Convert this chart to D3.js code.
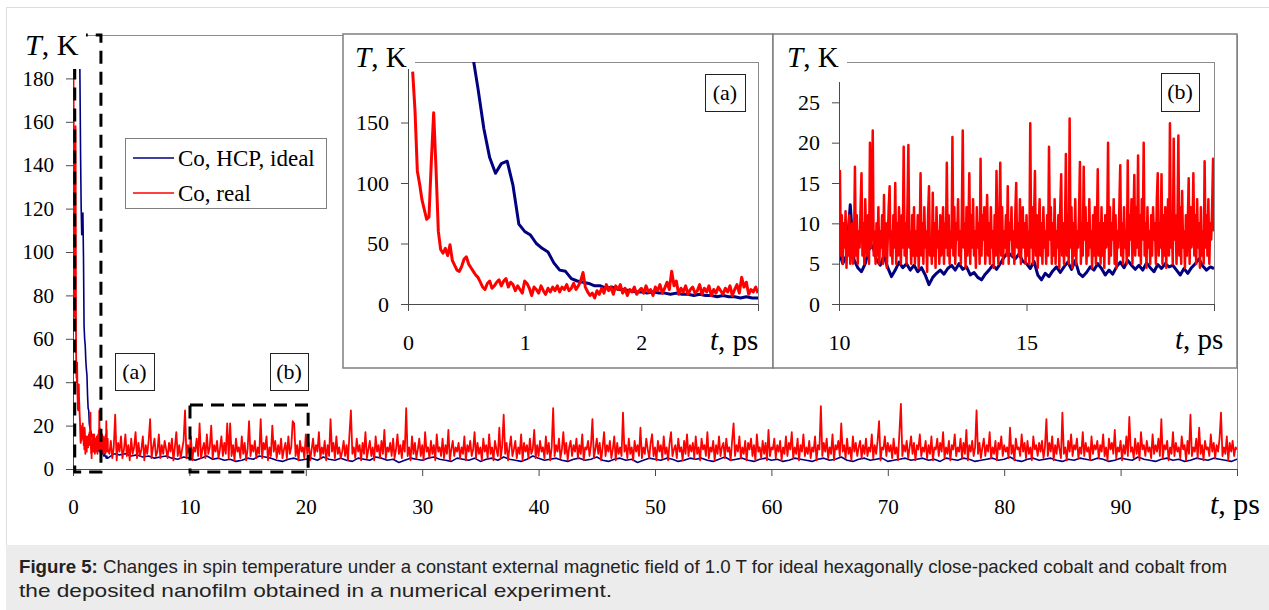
<!DOCTYPE html>
<html>
<head>
<meta charset="utf-8">
<style>
  body { margin: 0; background: #fff; }
  svg { display: block; }
</style>
</head>
<body>
<div id="figure"></div>
<script src="https://cdn.jsdelivr.net/npm/d3@7/dist/d3.min.js"></script>
<script>
// ---- data (K versus ps) ----
// main plot after the first 3 ps
const mainRedStart = 3.125, mainRedStep = 0.125;
const mainRed = [
  7, 13, 5, 10, 25, 4, 12, 8, 15, 5, 9, 16, 6, 11, 4, 14, 7, 10, 17, 5, 12, 6, 9, 15, 4, 11, 7, 13, 23, 5, 10, 14, 6, 8, 16, 5, 11, 7, 13, 9,
  5, 12, 8, 14, 4, 10, 17, 6, 11, 5, 9, 13, 27, 5, 11, 7, 15, 4, 10, 8, 14, 6, 21, 5, 9, 12, 5, 16, 7, 10, 20, 5, 11, 8, 13, 5, 9, 15, 6, 12,
  7, 21, 5, 21, 6, 11, 4, 14, 8, 10, 5, 15, 7, 12, 4, 9, 22, 6, 11, 8, 13, 5, 10, 7, 23, 5, 12, 9, 15, 4, 10, 6, 20, 8, 13, 5, 11, 7, 14, 5,
  9, 12, 5, 15, 7, 10, 22, 21, 6, 11, 4, 13, 8, 10, 5, 16, 7, 12, 4, 9, 14, 6, 11, 8, 17, 5, 10, 7, 13, 4, 11, 6, 23, 8, 12, 5, 15, 7, 10, 5,
  8, 13, 6, 11, 4, 16, 27, 7, 10, 5, 14, 8, 11, 4, 12, 7, 17, 5, 9, 13, 6, 10, 4, 15, 8, 11, 5, 13, 7, 18, 5, 10, 8, 12, 6, 14, 5, 9, 16, 7,
  11, 5, 13, 8, 28, 6, 10, 4, 15, 7, 12, 5, 9, 14, 6, 11, 4, 17, 8, 10, 5, 13, 7, 11, 4, 16, 8, 10, 6, 14, 5, 11, 7, 18, 4, 9, 13, 6, 10, 8,
  12, 5, 10, 7, 15, 4, 11, 8, 13, 6, 9, 17, 5, 12, 7, 10, 4, 14, 8, 11, 5, 16, 7, 10, 4, 13, 9, 6, 19, 5, 11, 25, 7, 12, 4, 10, 15, 6, 9, 13,
  5, 10, 7, 16, 4, 12, 8, 11, 5, 14, 7, 9, 18, 5, 11, 6, 13, 8, 10, 5, 15, 7, 12, 4, 10, 28, 6, 11, 8, 14, 5, 9, 17, 7, 12, 4, 10, 13, 6, 11,
  8, 14, 5, 11, 7, 16, 4, 10, 9, 13, 6, 11, 23, 5, 9, 14, 7, 12, 4, 10, 17, 6, 11, 8, 13, 5, 9, 15, 4, 12, 7, 10, 6, 26, 8, 11, 5, 14, 7, 10,
  4, 13, 8, 11, 6, 19, 5, 10, 7, 14, 9, 5, 12, 16, 6, 10, 4, 13, 8, 11, 5, 15, 7, 10, 4, 12, 17, 6, 9, 11, 5, 14, 8, 10, 4, 13, 7, 16, 6, 11,
  8, 12, 5, 15, 7, 10, 4, 14, 9, 11, 6, 17, 5, 10, 8, 13, 4, 11, 7, 15, 6, 10, 12, 5, 14, 8, 10, 4, 13, 21, 6, 11, 8, 15, 5, 10, 7, 13, 4, 12,
  9, 14, 6, 11, 4, 16, 8, 10, 5, 13, 7, 12, 4, 18, 6, 10, 9, 14, 5, 11, 8, 13, 4, 10, 7, 15, 6, 12, 9, 17, 5, 10, 7, 14, 4, 11, 8, 16, 6, 10,
  7, 13, 5, 10, 8, 15, 4, 11, 9, 29, 6, 12, 8, 14, 5, 10, 7, 16, 4, 11, 9, 13, 6, 21, 8, 11, 5, 14, 7, 10, 4, 15, 8, 12, 6, 10, 13, 5, 11, 7,
  14, 6, 10, 8, 16, 5, 11, 7, 13, 22, 4, 10, 9, 15, 6, 12, 8, 11, 5, 14, 7, 10, 4, 17, 30, 6, 11, 8, 13, 5, 10, 15, 7, 12, 4, 11, 9, 16, 6, 10,
  8, 13, 5, 11, 7, 15, 4, 10, 9, 14, 6, 12, 8, 17, 5, 10, 7, 13, 4, 11, 9, 16, 6, 10, 8, 14, 5, 12, 7, 18, 4, 11, 8, 13, 6, 10, 27, 7, 12, 5,
  10, 14, 6, 11, 8, 17, 5, 10, 7, 13, 4, 12, 9, 15, 6, 11, 8, 10, 5, 19, 7, 11, 4, 14, 9, 10, 6, 16, 8, 12, 5, 13, 7, 10, 4, 15, 9, 11, 6, 12,
  8, 13, 5, 10, 23, 6, 12, 8, 15, 4, 11, 7, 14, 9, 5, 26, 7, 10, 4, 13, 8, 16, 6, 11, 9, 14, 5, 10, 7, 17, 6, 12, 8, 10, 4, 15, 7, 11, 9, 13,
  5, 11, 8, 16, 6, 10, 4, 14, 9, 12, 7, 18, 5, 10, 8, 13, 4, 11, 7, 15, 6, 24, 8, 10, 5, 14, 7, 12, 4, 17, 9, 11, 6, 13, 8, 10, 5, 16, 7, 11,
  8, 14, 6, 23, 5, 11, 9, 13, 4, 10, 7, 17, 6, 12, 8, 10, 5, 15, 9, 11, 4, 13, 7, 25, 6, 10, 8, 14, 5, 19, 7, 11, 4, 13, 9, 10, 6, 16, 8, 12,
  5, 11, 8, 14, 26, 6, 10, 7, 15, 4, 12, 8, 13, 6, 10, 9
];
const mainBlueStart = 3.5, mainBlueStep = 0.5;
const mainBlue = [
  7, 6.5, 7, 6, 6.5, 5.5, 6, 5, 5.5, 6, 5, 4.5, 5.5, 5, 4, 5, 6, 4.5, 5, 4,
  4.5, 3.5, 4, 5, 4.5, 6, 5.5, 5, 4, 3.5, 4.5, 5, 4, 4.5, 5, 4, 5.5, 4.5, 4, 5,
  4, 3.5, 5, 4.5, 4, 5.5, 5, 4, 4.5, 3, 4, 5, 4.5, 4, 5, 5.5, 4.5, 4, 3.5, 5,
  4.5, 4, 5, 3.5, 4.5, 5, 4, 5.5, 4.5, 4, 3.5, 4.5, 6, 5, 4, 4.5, 5, 4, 3.5, 4.5,
  5, 4, 4.5, 5.5, 4, 3.5, 4.5, 5, 4, 4.5, 3, 4, 5, 4.5, 4, 5, 4.5, 3.5, 4, 5,
  4.5, 5, 4, 3.5, 4.5, 5.5, 4, 4.5, 5, 4, 3.5, 4.5, 5, 4, 4.5, 3.5, 4, 5, 4.5, 4,
  3.5, 4.5, 5, 4, 4.5, 5.5, 4, 3.5, 4.5, 5, 4, 4.5, 5, 3.5, 4, 4.5, 5, 4, 4.5, 5,
  4, 4.5, 3.5, 5, 4.5, 4, 5, 4.5, 3.5, 4, 4.5, 5, 4, 4.5, 5.5, 4, 3.5, 4.5, 5, 4,
  4.5, 5, 4, 3.5, 4.5, 4, 5, 4.5, 4, 5, 4.5, 3.5, 4, 5, 4.5, 4, 5.5, 4.5, 4, 3.5,
  4.5, 5, 4, 4.5, 3.5, 4, 5, 4.5, 4, 5, 4.5, 4, 3.5, 4.5, 4
];
// inset (a): 0 - 3 ps
const aRedStart = 0.04, aRedStep = 0.02;
const aRed = [
  192, 160, 110, 99, 86, 78, 70, 72, 118, 158,
  112, 60, 45, 42, 46, 40, 49, 36, 32, 28,
  27, 31, 37, 39, 33, 30, 27, 24, 22, 18,
  14, 12, 17, 19, 13, 15, 18, 20, 15, 19,
  21, 14, 18, 16, 11, 15, 12, 9, 19, 17,
  13, 7, 14, 12, 9, 15, 11, 8, 13, 10,
  14, 11, 15, 10, 14, 12, 16, 11, 13, 17,
  12, 15, 19, 26, 14, 10, 7, 9, 5, 11,
  8, 13, 9, 16, 11, 14, 8, 15, 12, 16,
  9, 13, 7, 12, 10, 14, 8, 11, 13, 9,
  15, 10, 12, 7, 14, 11, 16, 9, 13, 18,
  12, 27, 15, 19, 8, 13, 10, 15, 8, 12,
  14, 9, 11, 16, 8, 13, 10, 15, 7, 12,
  9, 14, 11, 8, 13, 10, 15, 7, 12, 16,
  9, 22, 14, 18, 8, 12, 10, 14, 9
];
const aBlueStart = 0.5, aBlueStep = 0.05;
const aBlue = [
  230, 208, 178, 145, 121, 108, 116, 118, 98, 66,
  60, 57, 50, 46, 43, 34, 28, 27, 21, 19,
  18, 17, 15, 15, 13, 14, 12, 12, 11, 10,
  10, 9, 10, 9, 9, 8, 9, 8, 8, 7,
  8, 7, 7, 6, 7, 6, 6, 5, 6, 5, 5
];
// inset (b): 10 - 20 ps
const bRedStart = 10, bRedStep = 0.025;
const bRed = [
  9, 16.5, 6, 11, 5, 10, 7, 11.5, 4.5, 9, 6, 11, 5, 8, 10, 5, 7, 17, 6, 11, 5, 9, 7, 12, 16.2, 6, 10, 5, 13, 8, 6, 11, 5, 20, 7, 12, 21.5, 6, 9, 5,
  10, 6, 12, 5, 9, 7, 11, 5, 13.5, 6, 10, 4.5, 8, 12, 14.6, 6, 9, 5, 11, 7, 15, 5, 10, 6, 12, 8, 5, 11, 7, 19.5, 6, 10, 5, 12, 19.7, 7, 9, 5, 11, 6,
  12, 5, 9, 6, 11, 4.5, 8, 16.2, 6, 10, 5, 12, 7, 9, 4, 11, 14.6, 6, 8, 5, 13.8, 6, 10, 4.5, 12, 7, 9, 5, 11, 6, 8, 12, 5, 10, 7, 17.5, 6, 11, 5, 9,
  7, 20.7, 6, 12, 5, 10, 8, 13, 6, 9, 5, 11, 21.5, 7, 10, 4.5, 12, 6, 9, 16.2, 5, 11, 7, 13, 6, 9, 4.5, 12, 7, 10, 5, 18, 6, 11, 8, 12, 5, 9, 13.5, 6,
  10, 5, 12, 7, 9, 4.5, 11, 6, 16.5, 8, 5, 10, 17.5, 6, 12, 5, 9, 7, 11, 6, 14.6, 5, 10, 8, 12, 6, 9, 5, 11, 15, 7, 10, 6, 13, 5, 9, 12, 7, 10, 5,
  11, 6, 9, 5, 22.4, 7, 12, 5, 10, 16.5, 6, 11, 4.5, 9, 13, 6, 10, 5, 12, 7, 9, 5, 11, 6, 19.5, 8, 12, 5, 10, 6, 13, 5, 9, 7, 11, 4.5, 12, 16.1, 6, 10,
  5, 9, 18.6, 6, 11, 5, 23, 7, 12, 4.5, 10, 6, 13, 5, 9, 7, 11, 17.6, 5, 10, 6, 17, 8, 12, 5, 10, 6, 13, 7, 9, 4.5, 11, 6, 12, 5, 9, 16.7, 6, 10, 5,
  12, 6, 10, 4.5, 11, 7, 9, 20, 5, 12, 6, 10, 8, 13, 5, 11, 4.5, 9, 7, 12, 17.2, 6, 10, 5, 12, 7, 9, 5, 17.8, 6, 11, 8, 13, 5, 10, 16, 6, 12, 7, 18.4,
  6, 11, 5, 13, 8, 20, 6, 10, 4.5, 12, 7, 9, 5, 11, 6, 12, 8, 10, 5, 13, 16.2, 6, 10, 7, 16.1, 5, 11, 6, 12, 4.5, 9, 13, 6, 22.4, 7, 10, 5, 20.5, 8, 11,
  5, 10, 20.9, 6, 12, 5, 14, 7, 9, 4.5, 11, 6, 10, 15.6, 5, 12, 7, 9, 16.2, 6, 11, 5, 13, 7, 10, 4.5, 12, 6, 9, 5, 17.7, 7, 11, 6, 13, 5, 10, 8, 12, 18,
  9
];
const bBlueStart = 10, bBlueStep = 0.1;
const bBlue = [
  6.5, 5, 6, 12.3, 5.5, 4.5, 4, 5, 6.8, 7.2,
  5.5, 4.8, 6, 4.5, 3.4, 4.2, 5.2, 4.5, 5, 4.2,
  4.8, 4, 4.5, 3.6, 2.4, 3.3, 3.8, 4.2, 3.7, 4.4,
  4.8, 4.2, 5, 4.3, 4.6, 3.6, 3.9, 3.3, 3, 3.7,
  4.2, 4.8, 4.3, 5, 5.8, 6.4, 6, 5.6, 6.2, 5.3,
  5, 4.4, 5.3, 3.6, 3, 3.8, 3.4, 4.1, 4.6, 3.9,
  4.6, 5.2, 4.3, 5.4, 3.8, 3.4, 3.9, 4.6, 4.2, 5,
  4.4, 3.6, 4.2, 3.7, 4.6, 5.2, 4.5, 5.4, 4.8, 4.3,
  4.8, 4.2, 5.1, 4.5, 4, 4.9, 4.4, 5, 4.6, 4.8,
  4.2, 3.6, 4.4, 3.8, 4.5, 5, 5.6, 4.7, 4.2, 4.6,
  4.4
];

const mainXTicks = [0, 10, 20, 30, 40, 50, 60, 70, 80, 90, 100];
const mainYTicks = [0, 20, 40, 60, 80, 100, 120, 140, 160, 180];
const aXTicks = [0, 1, 2, 3];
const aYTicks = [0, 50, 100, 150];
const bXTicks = [10, 15, 20];
const bYTicks = [0, 5, 10, 15, 20, 25];

const seriesNames = ['Co, HCP, ideal', 'Co, real'];
const seriesColors = ['#000080', '#ff0000'];
// dashed zoom regions on the main plot: [t0, t1, K0, K1]
const zoomRegions = [[0.15, 2.4, -1.4, 200], [10.05, 20.2, -1.4, 29.5]];
const zoomNames = ['(a)', '(b)'];

const captionBold = 'Figure 5:';
const captionLines = [
  ' Changes in spin temperature under a constant external magnetic field of 1.0 T for ideal hexagonally close-packed cobalt and cobalt from',
  'the deposited nanofilm obtained in a numerical experiment.'
];

const serif = "'Liberation Serif', 'Times New Roman', serif";
const sans = "'Liberation Sans', Arial, sans-serif";

const toPoints = (values, start, step) => values.map((v, i) => [start + i * step, v]);

const svg = d3.select('#figure').append('svg')
    .attr('width', 1269)
    .attr('height', 610);

displayFrame(svg);

const main = drawPanel(svg, {
  id: 'main', left: 73, right: 1237, top: 35, bottom: 469,
  xDomain: [0, 100], yDomain: [0, 200], xTicks: mainXTicks, yTicks: mainYTicks,
  tickFont: 21, titleFont: 30,
  series: [
    { points: toPoints(aBlue, aBlueStart, aBlueStep).concat(toPoints(mainBlue, mainBlueStart, mainBlueStep)),
      color: seriesColors[0], width: 1.6 },
    { points: toPoints(aRed, aRedStart, aRedStep).concat(toPoints(mainRed, mainRedStart, mainRedStep)),
      color: seriesColors[1], width: 1.8 }
  ],
  labelBox: [14, 16, 72, 53], yTitle: [25, 55], xTitle: [1210, 514]
});
displayZoomRegions(main);
displayLegend(svg);

drawInsetBox(svg, 343, 34, 430, 334);
const insetA = drawPanel(svg, {
  id: 'a', left: 408, right: 758, top: 62, bottom: 304,
  xDomain: [0, 3], yDomain: [0, 200], xTicks: aXTicks, yTicks: aYTicks,
  tickFont: 22, titleFont: 29,
  series: [
    { points: toPoints(aBlue, aBlueStart, aBlueStep), color: seriesColors[0], width: 3 },
    { points: toPoints(aRed, aRedStart, aRedStep), color: seriesColors[1], width: 3 }
  ],
  labelBox: [349, 38, 66, 31], yTitle: [355, 67], xTitle: [710, 350]
});
displayTitles(insetA.g, insetA.panel);
drawTag(svg, 705, 74, 40, 37, zoomNames[0]);

drawInsetBox(svg, 773, 34, 464, 334);
const insetB = drawPanel(svg, {
  id: 'b', left: 839, right: 1214, top: 62, bottom: 304,
  xDomain: [10, 20], yDomain: [0, 30], xTicks: bXTicks, yTicks: bYTicks,
  tickFont: 22, titleFont: 29,
  series: [
    { points: toPoints(bBlue, bBlueStart, bBlueStep), color: seriesColors[0], width: 3 },
    { points: toPoints(bRed, bRedStart, bRedStep), color: seriesColors[1], width: 2.5 }
  ],
  labelBox: [780, 38, 67, 44], yTitle: [787, 67], xTitle: [1175, 349]
});
displayTitles(insetB.g, insetB.panel);
drawTag(svg, 1161, 73, 38, 38, zoomNames[1]);

function displayFrame(svg) {
  svg.append('rect')
      .attr('x', 6.5)
      .attr('y', 7.5)
      .attr('width', 1280)
      .attr('height', 560)
      .attr('fill', '#fff')
      .attr('stroke', '#dcdcdc');

  svg.append('rect')
      .attr('x', 6)
      .attr('y', 545)
      .attr('width', 1263)
      .attr('height', 65)
      .attr('fill', '#ececec');

  const caption = svg.append('g')
      .style('font-family', sans)
      .style('font-size', '19px')
      .attr('fill', '#222');
  const first = caption.append('text')
      .attr('x', 19)
      .attr('y', 573)
      .attr('textLength', 1208)
      .attr('lengthAdjust', 'spacingAndGlyphs');
  first.append('tspan').attr('font-weight', 'bold').text(captionBold);
  first.append('tspan').text(captionLines[0]);
  caption.append('text')
      .attr('x', 19)
      .attr('y', 597)
      .attr('textLength', 593)
      .attr('lengthAdjust', 'spacingAndGlyphs')
      .text(captionLines[1]);
}

function drawInsetBox(svg, x, y, w, h) {
  svg.append('rect')
      .attr('x', x)
      .attr('y', y)
      .attr('width', w)
      .attr('height', h)
      .attr('fill', '#fff')
      .attr('stroke', '#7f7f7f')
      .attr('stroke-width', 1.5);
}

function drawPanel(svg, panel) {
  const x = d3.scaleLinear().domain(panel.xDomain).range([panel.left, panel.right]);
  const y = d3.scaleLinear().domain(panel.yDomain).range([panel.bottom, panel.top]);
  const g = svg.append('g').attr('id', 'panel-' + panel.id);
  const clipId = 'clip-' + panel.id;

  g.append('clipPath')
      .attr('id', clipId)
    .append('rect')
      .attr('x', panel.left)
      .attr('y', panel.top)
      .attr('width', panel.right - panel.left)
      .attr('height', panel.bottom - panel.top);

  // plot area border
  g.append('rect')
      .attr('x', panel.left + 0.5)
      .attr('y', panel.top + 0.5)
      .attr('width', panel.right - panel.left)
      .attr('height', panel.bottom - panel.top)
      .attr('fill', 'none')
      .attr('stroke', '#8c8c8c');

  const line = d3.line()
      .x(d => x(d[0]))
      .y(d => y(d[1]));

  g.append('g')
      .attr('clip-path', `url(#${clipId})`)
    .selectAll('path')
    .data(panel.series)
    .enter()
    .append('path')
      .attr('d', d => line(d.points))
      .attr('fill', 'none')
      .attr('stroke', d => d.color)
      .attr('stroke-width', d => d.width)
      .attr('stroke-linejoin', 'round');

  const lastX = panel.xDomain[1];
  const xAxis = d3.axisBottom(x)
      .tickValues(panel.xTicks)
      .tickSize(7)
      .tickSizeOuter(0)
      .tickPadding(23)
      .tickFormat(d => d === lastX ? '' : d);
  const yAxis = d3.axisLeft(y)
      .tickValues(panel.yTicks)
      .tickSize(7)
      .tickSizeOuter(0)
      .tickPadding(12);

  const gx = g.append('g')
      .attr('transform', `translate(0,${panel.bottom})`)
      .call(xAxis);
  const gy = g.append('g')
      .attr('transform', `translate(${panel.left},0)`)
      .call(yAxis);

  [gx, gy].forEach(a => {
    a.attr('font-family', serif).attr('font-size', panel.tickFont);
    a.selectAll('path, line').attr('stroke', '#4a4a4a');
    a.selectAll('text')
        .style('font-family', serif)
        .style('font-size', panel.tickFont + 'px')
        .attr('fill', '#000');
  });

  return { x, y, g, panel };
}

function displayTitles(target, panel) {
  const b = panel.labelBox;
  target.append('rect')
      .attr('x', b[0])
      .attr('y', b[1])
      .attr('width', b[2])
      .attr('height', b[3])
      .attr('fill', '#fff');

  const yTitle = target.append('text')
      .attr('x', panel.yTitle[0])
      .attr('y', panel.yTitle[1])
      .style('font-family', serif)
      .style('font-size', panel.titleFont + 'px');
  yTitle.append('tspan').attr('font-style', 'italic').text('T');
  yTitle.append('tspan').text(', K');

  const xTitle = target.append('text')
      .attr('x', panel.xTitle[0])
      .attr('y', panel.xTitle[1])
      .style('font-family', serif)
      .style('font-size', panel.titleFont + 'px');
  xTitle.append('tspan').attr('font-style', 'italic').text('t');
  xTitle.append('tspan').text(', ps');
}

function displayZoomRegions(main) {
  const { x, y, g } = main;
  g.selectAll('.zoom-region')
    .data(zoomRegions)
    .enter()
    .append('rect')
      .attr('class', 'zoom-region')
      .attr('x', d => x(d[0]))
      .attr('y', d => y(d[3]))
      .attr('width', d => x(d[1]) - x(d[0]))
      .attr('height', d => y(d[2]) - y(d[3]))
      .attr('fill', 'none')
      .attr('stroke', '#000')
      .attr('stroke-width', 3)
      .attr('stroke-dasharray', '13,8');

  displayTitles(g, main.panel);

  drawTag(g, 115, 353, 39, 37, zoomNames[0]);
  drawTag(g, 270, 353, 38, 37, zoomNames[1]);
}

function displayLegend(svg) {
  const legend = svg.append('g');
  legend.append('rect')
      .attr('x', 125.5)
      .attr('y', 138.5)
      .attr('width', 201)
      .attr('height', 70)
      .attr('fill', '#fff')
      .attr('stroke', '#7f7f7f');

  const items = legend.selectAll('.item')
    .data(seriesNames)
    .enter()
    .append('g')
      .attr('class', 'item')
      .attr('transform', (d, i) => `translate(0,${158 + i * 35})`);

  items.append('line')
      .attr('x1', 133)
      .attr('x2', 174)
      .attr('stroke', (d, i) => seriesColors[i])
      .attr('stroke-width', 1.5);

  items.append('text')
      .attr('x', 178)
      .attr('y', 8)
      .style('font-family', serif)
      .style('font-size', '23px')
      .text(d => d);
}

function drawTag(target, x, y, w, h, label) {
  target.append('rect')
      .attr('x', x + 0.5)
      .attr('y', y + 0.5)
      .attr('width', w)
      .attr('height', h)
      .attr('fill', '#fff')
      .attr('stroke', '#222');
  target.append('text')
      .attr('x', x + w / 2)
      .attr('y', y + h / 2 + 7)
      .attr('text-anchor', 'middle')
      .style('font-family', serif)
      .style('font-size', '22px')
      .text(label);
}
</script>
</body>
</html>
